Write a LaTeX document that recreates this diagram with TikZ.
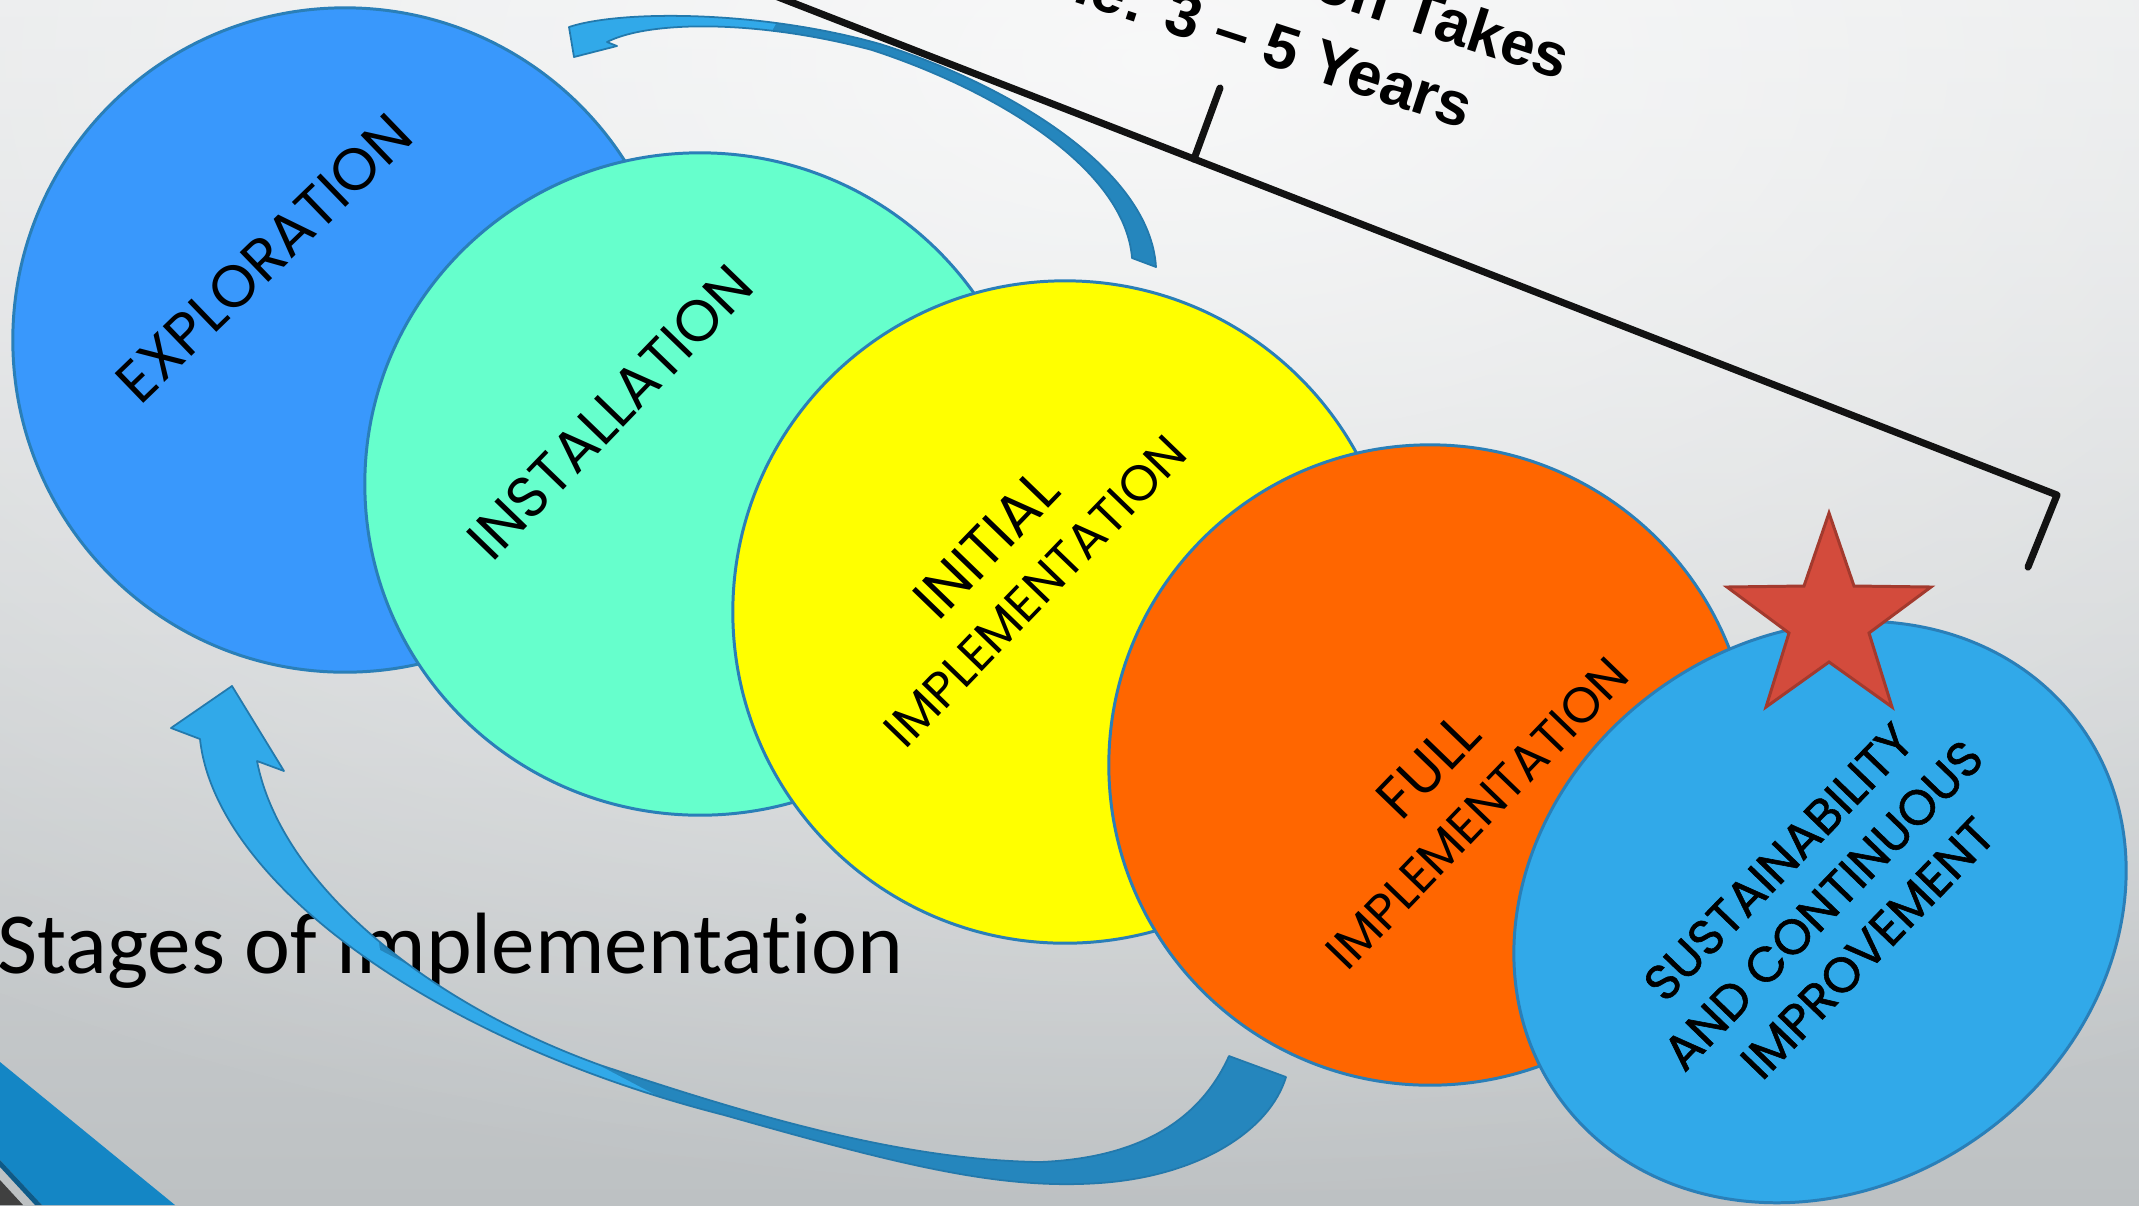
\documentclass[tikz,border=0pt]{standalone}
\usepackage{fontspec}
\usetikzlibrary{shapes.geometric,fadings}
\newfontfamily\titlefont{Carlito}[Ligatures=NoCommon]
\newfontfamily\stagefont{Poppins}
\newfontfamily\stageheavyfont{Poppins}[FakeBold=1.2]
\newfontfamily\notefont{Liberation Sans}

\definecolor{bgtop}{HTML}{E4E6E7}
\definecolor{bgbottom}{HTML}{BDC1C3}
\definecolor{explfill}{HTML}{3998FC}
\definecolor{instfill}{HTML}{66FFCC}
\definecolor{initfill}{HTML}{FFFF00}
\definecolor{fullfill}{HTML}{FF6600}
\definecolor{sustfill}{HTML}{31A9E9}
\definecolor{ringblue}{HTML}{2A7FB8}
\definecolor{starfill}{HTML}{D34B3C}
\definecolor{staredge}{HTML}{A33A2E}
\definecolor{arrowlight}{HTML}{31A9E9}
\definecolor{arrowdark}{HTML}{2586BD}
\definecolor{arrowedge}{HTML}{2379AC}
\definecolor{cornerblue}{HTML}{1486C5}
\definecolor{cornernavy}{HTML}{0E5A88}
\definecolor{cornergray}{HTML}{404040}

\tikzfading[name=glow, inner color=transparent!0, outer color=transparent!100]

\begin{document}
\begin{tikzpicture}[x=0.01cm, y=-0.01cm,
  stagedisc/.style={ellipse, draw=ringblue, line width=0.85pt, inner sep=0pt, outer sep=0pt},
  stagelabel/.style={font=\stagefont\fontsize{16.5}{18.5}\selectfont, align=center, inner sep=0pt, text=black},
  bracketline/.style={line width=2pt, black!93, line cap=round, line join=round},
  notetext/.style={font=\notefont\bfseries\fontsize{17.5}{21}\selectfont, inner sep=0pt, text=black},
  bandfill/.style={fill=arrowdark},
  bandlight/.style={fill=arrowlight},
  bandedge/.style={draw=arrowedge, line width=0.5pt, line join=round}]

\useasboundingbox (0,0) rectangle (2139,1205);
\clip (0,0) rectangle (2139,1205);

% backdrop: vertical grey gradient with a soft light patch near the top
\shade[top color=bgtop, bottom color=bgbottom] (0,0) rectangle (2139,1205);
\fill[white, path fading=glow, fill opacity=0.75] (1150,60) ellipse (2100 and 1150);

% corner trim at the lower left
\fill[cornerblue] (0,1062) -- (175,1205) -- (42,1205) -- (0,1160) -- cycle;
\fill[cornernavy] (0,1160) -- (42,1205) -- (35,1205) -- (0,1167) -- cycle;
\fill[cornergray] (0,1180) -- (23,1205) -- (0,1205) -- cycle;

% title
\node[font=\titlefont\fontsize{24.75}{29}\selectfont, anchor=base west, inner sep=0pt] (title) at (-3,973) {Stages of implementation};

% the five stages, back to front
\node[stagedisc, fill=explfill, minimum width=6.64cm, minimum height=6.64cm] (expl) at (345,340) {};
\node[stagedisc, fill=instfill, minimum width=6.70cm, minimum height=6.62cm] (inst) at (700,484) {};
\node[stagedisc, fill=initfill, minimum width=6.64cm, minimum height=6.62cm] (init) at (1065,612) {};
\node[stagedisc, fill=fullfill, minimum width=6.42cm, minimum height=6.40cm] (full) at (1430,765) {};
\node[stagedisc, fill=sustfill, minimum width=6.40cm, minimum height=5.50cm, rotate=35] (sust) at (1820,912) {};

% stage names
\node[stagelabel, font=\stagefont\fontsize{16.8}{18.5}\selectfont, rotate=44] (lexpl) at (264,258) {EXPLORATION};
\node[stagelabel, rotate=46] (linst) at (610,412) {INSTALLATION};
\node[stagelabel, rotate=46] (linit) at (1010,567) {INITIAL\\{\fontsize{14.2}{18.5}\selectfont IMPLEMENTATION}};
\node[stagelabel, rotate=46] (lfull) at (1452,789) {FULL\\{\fontsize{14.2}{18.5}\selectfont IMPLEMENTATION}};
\node[stagelabel, font=\stageheavyfont\fontsize{14}{17.6}\selectfont, rotate=46] (lsust) at (1823,905) {SUSTAINABILITY\\AND CONTINUOUS\\IMPROVEMENT};

% star on the last stage
\fill[starfill, draw=staredge, line width=0.85pt, line join=miter]
  (1829,513) -- (1804,586) -- (1727,587) -- (1789,633) -- (1766,707) -- (1829,662)
  -- (1892,707) -- (1869,633) -- (1931,587) -- (1854,586) -- cycle;

% time-span bracket
\coordinate (brA) at (760,-10);
\coordinate (brB) at (2057,495);
\coordinate (brC) at (2028,567);
\coordinate (tkA) at (1194,159);
\coordinate (tkB) at (1220,88);
\draw[bracketline] (brA) -- (brB) -- (brC);
\draw[bracketline] (tkA) -- (tkB);
\node[notetext, anchor=base east, rotate=-18] (note1) at (1562,80) {Implementation Takes};
\node[notetext, anchor=base east, rotate=-18] (note2) at (1465,129) {Time: 3 – 5 Years};

% curved arrow over the top, pointing back to the first stage
\path[bandfill, save path=\toparrow]
  (569,27) .. controls (620,10) and (760,10) .. (880,44)
           .. controls (1010,85) and (1150,170) .. (1156,267)
  -- (1132,258) .. controls (1125,170) and (1000,92) .. (872,50)
                .. controls (760,20) and (650,20) .. (607,42)
  -- (617,46) -- (574,57) -- cycle;
\begin{scope}
  \clip (500,-20) -- (800,-20) -- (745,80) -- (500,80) -- cycle;
  \path[bandlight, use path=\toparrow];
\end{scope}
\path[bandedge, use path=\toparrow];

% curved arrow along the bottom, pointing back to the first stage
\path[bandfill, save path=\botarrow]
  (200,739) .. controls (215,880) and (430,1040) .. (724,1115)
            .. controls (900,1165) and (1000,1190) .. (1100,1183)
            .. controls (1200,1176) and (1270,1130) .. (1286,1077)
  -- (1229,1056) .. controls (1200,1120) and (1140,1158) .. (1040,1162)
                 .. controls (900,1160) and (750,1115) .. (600,1065)
                 .. controls (420,1000) and (280,880) .. (257,761)
  -- (284,771) -- (232,686) -- (171,728) -- cycle;
\begin{scope}
  \clip (0,600) -- (330,600) -- (380,950) -- (760,1150) -- (760,1205) -- (0,1205) -- cycle;
  \path[bandlight, use path=\botarrow];
\end{scope}
\path[bandedge, use path=\botarrow];

\end{tikzpicture}
\end{document}
